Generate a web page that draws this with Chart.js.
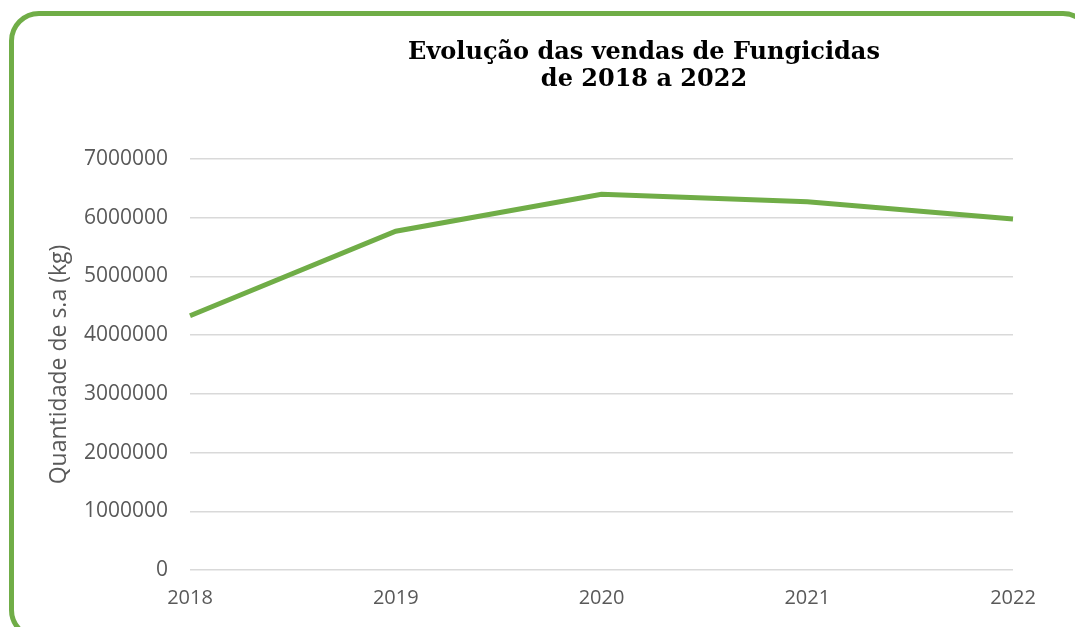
<!DOCTYPE html>
<html>
<head>
<meta charset="utf-8">
<script src="https://cdn.jsdelivr.net/npm/chart.js@4"></script>
<style>
  html, body { margin: 0; padding: 0; background: #fff; overflow: hidden; }
  #wrap { position: relative; width: 1075px; height: 627px; overflow: hidden; }
  #frame {
    position: absolute; left: 9px; top: 11px; width: 1084px; height: 629px;
    border: 5px solid #70AD47; border-radius: 30px; box-sizing: border-box;
  }
  canvas { position: absolute; left: 0; top: 0; }
</style>
</head>
<body>
<div id="wrap">
  <div id="frame"></div>
  <canvas id="chart" width="1075" height="627"></canvas>
</div>
<script>
// data
const years = ["2018", "2019", "2020", "2021", "2022"]
const fungicidas = [4330000, 5770000, 6400000, 6270000, 5980000]
const titleLines = ["Evolução das vendas de Fungicidas", "de 2018 a 2022"]
const yTitle = "Quantidade de s.a (kg)"

// title is not centred on the canvas in the original, so draw it here
const titlePlugin = {
  id: 'offsetTitle',
  afterDraw(chart) {
    const ctx = chart.ctx
    ctx.save()
    ctx.font = "bold 24px 'DejaVu Serif'"
    ctx.fillStyle = "#000"
    ctx.textAlign = "center"
    ctx.textBaseline = "alphabetic"
    ctx.fillText(titleLines[0], 644, 59)
    ctx.fillText(titleLines[1], 644, 86)
    ctx.restore()
  }
}

new Chart(document.getElementById("chart"), {
  type: 'line',
  data: {
    labels: years,
    datasets: [{
      data: fungicidas,
      borderColor: "#70AD47",
      borderWidth: 5,
      pointRadius: 0,
      tension: 0,
      fill: false
    }]
  },
  options: {
    responsive: false,
    animation: false,
    layout: { padding: { top: 159, right: 62, left: 46, bottom: 12 } },
    plugins: {
      legend: { display: false },
      title: { display: false },
      tooltip: { enabled: false }
    },
    scales: {
      x: {
        offset: false,
        grid: { display: false, drawTicks: false },
        border: { display: false },
        ticks: { color: "#595959", font: { family: "Open Sans", size: 20 }, padding: 16, maxRotation: 0 },
        afterFit(scale) { scale.height = 45 }
      },
      y: {
        min: 0,
        max: 7000000,
        grid: { color: "#d9d9d9", lineWidth: 1.5, drawTicks: false },
        border: { display: false },
        ticks: {
          stepSize: 1000000, color: "#595959", font: { family: "Open Sans", size: 21 }, padding: 22,
          callback: v => String(v)
        },
        title: { display: true, text: yTitle, color: "#595959", font: { family: "Open Sans", size: 23 }, padding: 0 },
        afterFit(scale) { scale.width = 144 }
      }
    }
  },
  plugins: [titlePlugin]
});
</script>
</body>
</html>
